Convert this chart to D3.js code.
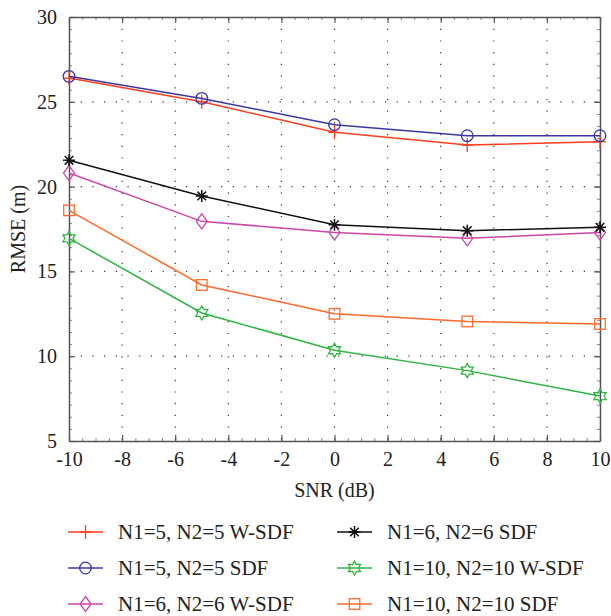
<!DOCTYPE html>
<html>
<head>
<meta charset="utf-8">
<script src="https://cdn.jsdelivr.net/npm/d3@7"></script>
<style>
  body { margin: 0; background: #fff; }
</style>
</head>
<body>
<div id="chart"></div>
<script>
// SNR values (dB)
var snr = [-10, -5, 0, 5, 10];

// RMSE series (m)
var w55 = [26.4, 25.0, 23.2, 22.45, 22.65];
var s55 = [26.5, 25.2, 23.65, 23.0, 23.0];
var s66 = [21.55, 19.45, 17.75, 17.4, 17.6];
var w66 = [20.8, 17.95, 17.3, 16.95, 17.3];
var s1010 = [18.6, 14.2, 12.5, 12.05, 11.9];
var w1010 = [16.95, 12.55, 10.35, 9.15, 7.65];

var xTicks = [-10, -8, -6, -4, -2, 0, 2, 4, 6, 8, 10];
var yTicks = [5, 10, 15, 20, 25, 30];

var series = [
  {name: "N1=5, N2=5 W-SDF", values: w55, color: "#ff3d1f", marker: "plus"},
  {name: "N1=5, N2=5 SDF", values: s55, color: "#3a36a8", marker: "circle"},
  {name: "N1=6, N2=6 W-SDF", values: w66, color: "#cc47a8", marker: "diamond"},
  {name: "N1=6, N2=6 SDF", values: s66, color: "#111111", marker: "star"},
  {name: "N1=10, N2=10 W-SDF", values: w1010, color: "#2fb53f", marker: "hexagram"},
  {name: "N1=10, N2=10 SDF", values: s1010, color: "#ff6a2a", marker: "square"}
];

var FONT = "Liberation Serif";

var margin = {top: 17, right: 11, bottom: 175, left: 69},
    width = 611 - margin.left - margin.right,
    height = 616 - margin.top - margin.bottom;

var root = d3.select("#chart")
  .append("svg")
    .attr("width", 611)
    .attr("height", 616)
    .attr("font-family", FONT);
var svg = root.append("g")
    .attr("transform", "translate(" + margin.left + "," + margin.top + ")");

var x = d3.scaleLinear().domain([-10, 10]).range([0, width]);
var y = d3.scaleLinear().domain([5, 30]).range([height, 0]);

// dotted grid
svg.append("g").selectAll("line")
  .data(xTicks.slice(1, -1))
  .enter().append("line")
    .attr("x1", function(d) { return x(d); })
    .attr("x2", function(d) { return x(d); })
    .attr("y1", 0).attr("y2", height)
    .attr("stroke", "#333").attr("stroke-width", 1.2)
    .attr("stroke-dasharray", "1.2,10.5");
svg.append("g").selectAll("line")
  .data(yTicks.slice(1, -1))
  .enter().append("line")
    .attr("y1", function(d) { return y(d); })
    .attr("y2", function(d) { return y(d); })
    .attr("x1", 0).attr("x2", width)
    .attr("stroke", "#333").attr("stroke-width", 1.2)
    .attr("stroke-dasharray", "1.2,10.5");

// axes (inward ticks, boxed)
function styleAxis(g) {
  g.attr("font-family", FONT).attr("font-size", 20);
  g.select(".domain").attr("stroke", "#555").attr("stroke-width", 1.5);
  g.selectAll(".tick line").attr("stroke", "#555").attr("stroke-width", 1.2);
  g.selectAll(".tick text")
    .attr("font-family", FONT)
    .attr("font-size", 20)
    .attr("fill", "#222");
}
function minorStyle(g) {
  g.select(".domain").remove();
  g.selectAll("line").attr("stroke", "#888");
}
var xMinor = d3.range(-10, 10.01, 0.5);
var yMinor = d3.range(5, 30.01, 5 / 7);
var fmt = function(d) { return String(d); };

svg.append("g")
  .attr("transform", "translate(0," + height + ")")
  .call(d3.axisBottom(x).tickValues(xMinor).tickSize(-3).tickFormat(""))
  .call(minorStyle);
svg.append("g")
  .call(d3.axisTop(x).tickValues(xMinor).tickSize(-3).tickFormat(""))
  .call(minorStyle);
svg.append("g")
  .call(d3.axisLeft(y).tickValues(yMinor).tickSize(-3).tickFormat(""))
  .call(minorStyle);
svg.append("g")
  .attr("transform", "translate(" + width + ",0)")
  .call(d3.axisRight(y).tickValues(yMinor).tickSize(-3).tickFormat(""))
  .call(minorStyle);

svg.append("g")
  .attr("transform", "translate(0," + height + ")")
  .call(d3.axisBottom(x).tickValues(xTicks).tickSize(-6).tickSizeOuter(0).tickPadding(11).tickFormat(fmt))
  .call(styleAxis);
svg.append("g")
  .call(d3.axisTop(x).tickValues(xTicks).tickSize(-6).tickSizeOuter(0).tickFormat(""))
  .call(styleAxis);
svg.append("g")
  .call(d3.axisLeft(y).tickValues(yTicks).tickSize(-6).tickSizeOuter(0).tickPadding(12).tickFormat(fmt))
  .call(styleAxis);
svg.append("g")
  .attr("transform", "translate(" + width + ",0)")
  .call(d3.axisRight(y).tickValues(yTicks).tickSize(-6).tickSizeOuter(0).tickFormat(""))
  .call(styleAxis);

// six-pointed star outline (hexagram marker)
function hexagramPath(R) {
  var r = R / Math.sqrt(3), pts = [];
  for (var k = 0; k < 12; k++) {
    var a = -Math.PI / 2 + k * Math.PI / 6;
    var rr = k % 2 == 0 ? R : r;
    pts.push([rr * Math.cos(a), rr * Math.sin(a)]);
  }
  return "M" + pts.join("L") + "Z";
}

// markers
function drawMarker(g, type, color) {
  if (type == "plus") {
    g.append("path").attr("d", "M-6,0H6M0,-7V7");
  } else if (type == "circle") {
    g.append("circle").attr("r", 5.8);
  } else if (type == "diamond") {
    g.append("path").attr("d", "M0,-7.5L5.5,0L0,7.5L-5.5,0Z");
  } else if (type == "star") {
    g.append("path").attr("d", "M-6,0H6M0,-6V6M-4.3,-4.3L4.3,4.3M4.3,-4.3L-4.3,4.3");
  } else if (type == "square") {
    g.append("rect").attr("x", -5.3).attr("y", -5.3).attr("width", 10.6).attr("height", 10.6);
  } else if (type == "hexagram") {
    g.append("path").attr("d", hexagramPath(7));
  }
  g.selectAll("*")
    .attr("fill", "none")
    .attr("stroke", color)
    .attr("stroke-width", type == "star" ? 1.5 : 1.3);
}

var line = d3.line()
  .x(function(d, i) { return x(snr[i]); })
  .y(function(d) { return y(d); });

series.forEach(function(s) {
  svg.append("path")
    .datum(s.values)
    .attr("fill", "none")
    .attr("stroke", s.color)
    .attr("stroke-width", 1.5)
    .attr("d", line);
  s.values.forEach(function(v, i) {
    var g = svg.append("g")
      .attr("transform", "translate(" + x(snr[i]) + "," + y(v) + ")");
    drawMarker(g, s.marker, s.color);
  });
});

// axis titles
svg.append("text")
  .attr("x", width / 2)
  .attr("y", height + 56)
  .attr("text-anchor", "middle")
  .attr("font-family", FONT)
  .attr("font-size", 20)
  .attr("fill", "#222")
  .text("SNR (dB)");

svg.append("text")
  .attr("transform", "rotate(-90)")
  .attr("x", -height / 2)
  .attr("y", -44)
  .attr("text-anchor", "middle")
  .attr("font-family", FONT)
  .attr("font-size", 20)
  .attr("fill", "#222")
  .text("RMSE (m)");

// legend
var legendX = [68, 337];
var legendY = [532, 568, 604];
var legend = root.append("g");
series.forEach(function(s, i) {
  var col = i < 3 ? 0 : 1;
  var row = i % 3;
  var lx = legendX[col], ly = legendY[row];
  var g = legend.append("g");
  g.append("line")
    .attr("x1", lx).attr("x2", lx + 35)
    .attr("y1", ly).attr("y2", ly)
    .attr("stroke", s.color).attr("stroke-width", 1.5);
  var m = g.append("g").attr("transform", "translate(" + (lx + 17.5) + "," + ly + ")");
  drawMarker(m, s.marker, s.color);
  g.append("text")
    .attr("x", lx + 50)
    .attr("y", ly)
    .attr("dy", "0.35em")
    .attr("font-family", FONT)
    .attr("font-size", 21)
    .attr("fill", "#222")
    .text(s.name);
});
</script>
</body>
</html>
